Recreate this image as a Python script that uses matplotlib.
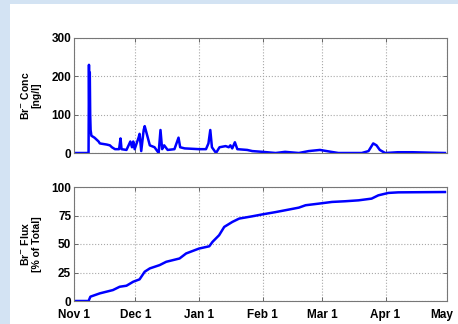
import numpy as np
import matplotlib.pyplot as plt
import matplotlib.transforms as mtransforms
from matplotlib.patches import Rectangle
import datetime as dt

plt.rcParams['font.family'] = ['Liberation Sans', 'DejaVu Sans']
plt.rcParams['font.weight'] = 'bold'

start = dt.datetime(2007, 11, 1)

# Br- concentration (days since Nov 1, ng/l)
conc_days = [0, 7.1, 7.3, 7.5, 7.7, 7.9, 8.1, 8.5, 10, 12, 12.6, 16, 17.5, 18.5, 20, 22,
             22.7, 23.2, 25.6, 27.5, 28.3, 28.9, 29.6, 31.5, 32.0, 32.8, 34.0, 34.5, 35.5,
             37, 39.3, 41.3, 42.2, 43, 44, 45.7, 49, 51, 51.8, 54, 61, 64.4, 65.6, 66.5,
             67.3, 69.3, 71, 74, 75.5, 76.3, 77.2, 78.5, 79.7, 84.5, 87, 92, 98.4, 103,
             109.7, 114.5, 120, 125.5, 129, 140.4, 143.7, 146, 147.6, 149.2, 151.8, 158,
             165, 181]
conc_vals = [0, 0, 230, 85, 210, 100, 60, 45, 40, 30, 25, 22, 20, 15, 10, 10,
             38, 10, 8, 30, 15, 30, 10, 40, 50, 5, 60, 70, 50,
             20, 15, 0, 60, 10, 20, 8, 10, 40, 15, 12, 10, 10, 25, 60,
             15, 0, 15, 18, 15, 20, 12, 28, 10, 8, 5, 3, 0, 3,
             0, 5, 8, 3, 0, 0, 5, 25, 20, 8, 0, 2,
             2, 0]

# cumulative Br- flux (days since Nov 1, % of total)
flux_days = [0, 7.1, 8.0, 12.6, 19, 22.3, 25.6, 28.9, 32, 34.5, 37, 41.8, 45, 51.5, 54.7,
             61, 66, 67.6, 70.8, 73.3, 77.3, 80.6, 87, 92, 98.4, 104.8, 109.7, 113,
             119.4, 125.9, 132.3, 138.8, 145.2, 148.5, 153.4, 158.2, 181]
flux_vals = [0, 0, 3.8, 6.7, 9.6, 12.5, 13.4, 16.9, 19, 25.7, 28.6, 31.5, 34.4, 37.3, 41.7,
             46, 48, 51.9, 57.7, 65, 69.4, 72.3, 74.3, 76, 78, 80.2, 81.9, 84,
             85.4, 86.9, 87.5, 88.3, 89.8, 92.7, 94.8, 95.3, 95.6]

month_ticks = [dt.datetime(2007, 11, 1), dt.datetime(2007, 12, 1), dt.datetime(2008, 1, 1),
               dt.datetime(2008, 2, 1), dt.datetime(2008, 3, 1), dt.datetime(2008, 4, 1),
               dt.datetime(2008, 5, 1)]
month_labels = ['Nov 1', 'Dec 1', 'Jan 1', 'Feb 1', 'Mar 1', 'Apr 1', 'May']

conc_t = [start + dt.timedelta(days=d) for d in conc_days]
flux_t = [start + dt.timedelta(days=d) for d in flux_days]

fig = plt.figure(figsize=(4.58, 3.24), dpi=100, facecolor='#d3e3f3')
# white slide panel behind the plots
fig.patches.append(Rectangle((10 / 458, 0), 1, 320 / 324, transform=fig.transFigure,
                             facecolor='white', edgecolor='none', zorder=-10))

ax1 = fig.add_axes([74 / 458, 171 / 324, 373 / 458, 115 / 324])
ax2 = fig.add_axes([74 / 458, 23 / 324, 373 / 458, 114 / 324])

ax1.plot(conc_t, conc_vals, color='#0000ff', lw=1.8)
ax2.plot(flux_t, flux_vals, color='#0000ff', lw=1.8)

ax1.set_ylim(0, 300)
ax1.set_yticks([0, 100, 200, 300])
ax2.set_ylim(0, 100)
ax2.set_yticks([0, 25, 50, 75, 100])

for ax in (ax1, ax2):
    ax.set_xlim(month_ticks[0], month_ticks[-1])
    ax.set_xticks(month_ticks)
    ax.grid(True, color='#a8a8a8', linestyle=':', linewidth=0.8)
    ax.tick_params(direction='in', top=True, right=True, length=3, width=0.6,
                   color='#555555', labelsize=8.5, pad=2)
    for s in ax.spines.values():
        s.set_color('#777777')
        s.set_linewidth(0.8)
    ax.set_facecolor('white')

ax1.set_xticklabels([])
ax2.set_xticklabels(month_labels)
ax2.tick_params(axis='x', pad=5.5)
# nudge the last month label so it stays inside the figure
last = ax2.get_xticklabels()[-1]
last.set_transform(last.get_transform() +
                   mtransforms.ScaledTranslation(-5 / 100, 0, fig.dpi_scale_trans))

ax1.set_ylabel('Br$^{-}$ Conc\n[ng/l]', fontsize=7.5, fontweight='bold', labelpad=7,
               linespacing=1.1)
ax2.set_ylabel('Br$^{-}$ Flux\n[% of Total]', fontsize=7.5, fontweight='bold', labelpad=7,
               linespacing=1.1)

fig.savefig('out.png', dpi=100, facecolor=fig.get_facecolor())
